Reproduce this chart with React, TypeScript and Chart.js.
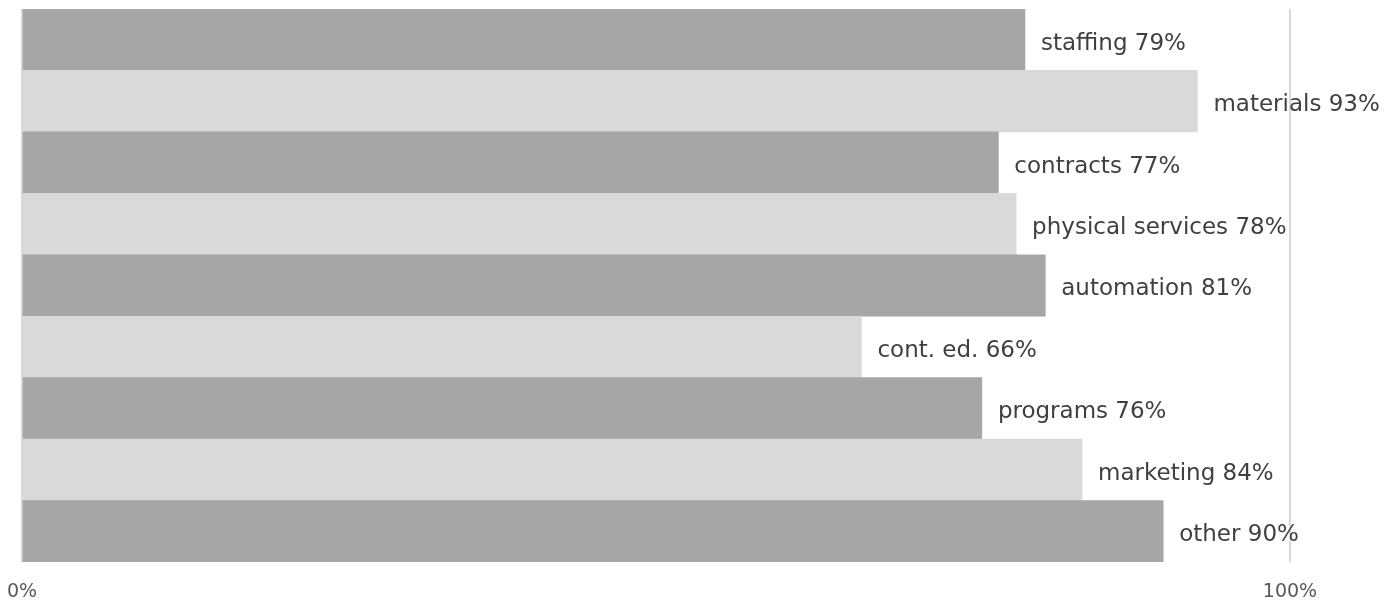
import React, { useEffect, useRef } from "react";
import { Chart, registerables } from "chart.js";

Chart.register(...registerables);

const categories = ["staffing", "materials", "contracts", "physical services", "automation", "cont. ed.", "programs", "marketing", "other"];
const values = [79.1, 92.7, 77.0, 78.4, 80.7, 66.2, 75.7, 83.6, 90.0];
const shownPercents = [79, 93, 77, 78, 81, 66, 76, 84, 90];
const barColors = ["#a6a6a6", "#d9d9d9"];
const xTickValues = [0, 100];

const labelPlugin = {
  id: "barLabels",
  afterDatasetsDraw(chart: any) {
    const ctx = chart.ctx;
    const meta = chart.getDatasetMeta(0);
    ctx.save();
    ctx.font = '23px "DejaVu Sans", sans-serif';
    ctx.fillStyle = "#404040";
    ctx.textBaseline = "middle";
    ctx.textAlign = "left";
    meta.data.forEach((bar: any, i: number) => {
      ctx.fillText(`${categories[i]} ${shownPercents[i]}%`, bar.x + 16, bar.y + 4);
    });
    ctx.restore();
  },
};

export default function App() {
  const ref = useRef<HTMLCanvasElement>(null);
  useEffect(() => {
    document.body.style.margin = "0";
    const chart = new Chart(ref.current!, {
      type: "bar",
      data: {
        labels: categories,
        datasets: [
          {
            data: values,
            backgroundColor: categories.map((_, i) => barColors[i % 2]),
            barPercentage: 1,
            categoryPercentage: 1,
          },
        ],
      },
      options: {
        indexAxis: "y",
        animation: false,
        responsive: false,
        maintainAspectRatio: false,
        layout: { padding: { left: 22, right: 108, top: 9, bottom: 0 } },
        plugins: { legend: { display: false }, tooltip: { enabled: false } },
        scales: {
          x: {
            min: 0,
            max: 100,
            afterBuildTicks: (axis: any) => {
              axis.ticks = xTickValues.map((v) => ({ value: v }));
            },
            afterFit: (s: any) => {
              s.height = 38;
              s.paddingLeft = 0;
              s.paddingRight = 0;
            },
            grid: { color: "#d9d9d9", drawTicks: false, lineWidth: 2 },
            border: { display: false },
            ticks: {
              padding: 19,
              color: "#595959",
              font: { family: '"DejaVu Sans", sans-serif', size: 19 },
              callback: (v: any) => `${v}%`,
              maxRotation: 0,
            },
          },
          y: { display: false },
        },
      },
      plugins: [labelPlugin],
    });
    return () => chart.destroy();
  }, []);
  return (
    <div style={{ width: 1398, height: 600 }}>
      <canvas ref={ref} width={1398} height={600} />
    </div>
  );
}
